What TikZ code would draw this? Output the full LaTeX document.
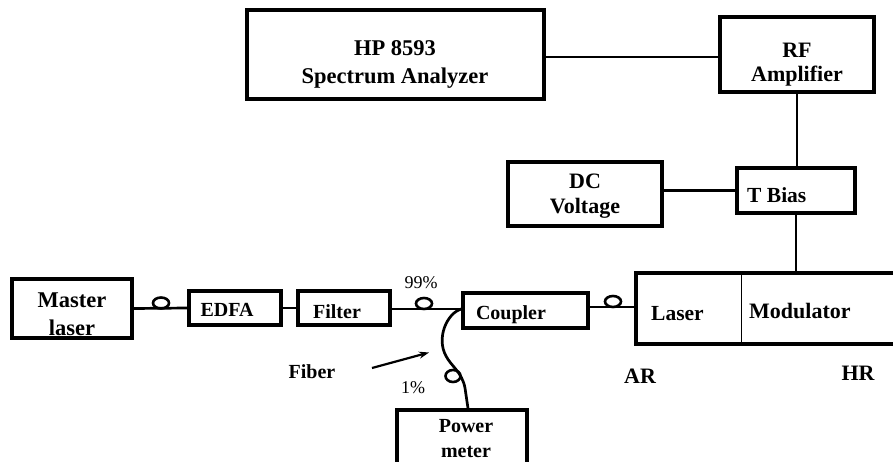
\documentclass[tikz,border=0pt]{standalone}
\usepackage{fontspec}
\setmainfont{Liberation Serif}
\usetikzlibrary{arrows.meta}
\begin{document}
\begin{tikzpicture}[x=1pt,y=-1pt,
  box/.style={draw,line width=3.2pt,inner sep=0pt},
  wire/.style={line width=2.7pt},
  loopy/.style={line width=2.6pt},
  treg/.style={inner sep=0pt,align=center,font=\fontsize{22}{25}\selectfont\bfseries},
  tbold/.style={inner sep=0pt,align=center,font=\fontsize{21.5}{28}\selectfont\bfseries},
  tmid/.style={inner sep=0pt,align=center,font=\fontsize{20}{24}\selectfont\bfseries},
  tsmall/.style={inner sep=0pt,font=\fontsize{18}{20}\selectfont},
]
\useasboundingbox (0,0) rectangle (893,462);
\clip (0,0) rectangle (893,462);

% boxes
\node[box,minimum width=297pt,minimum height=89pt] (sa) at (395.5,54.5) {};
\node[box,minimum width=154pt,minimum height=75pt] (rf) at (797,54.5) {};
\node[box,minimum width=154pt,minimum height=64pt] (dc) at (585,194) {};
\node[box,minimum width=118pt,minimum height=45pt] (tb) at (796,190.5) {};
\node[box,minimum width=120pt,minimum height=59pt] (ml) at (72,308.5) {};
\node[box,minimum width=92pt,minimum height=34pt] (edfa) at (235,308) {};
\node[box,minimum width=92pt,minimum height=34pt] (filt) at (344,308) {};
\node[box,minimum width=125pt,minimum height=35pt] (cp) at (525.5,310.5) {};
\node[box,minimum width=269pt,minimum height=71pt] (lm) at (770.5,308.5) {};
\node[box,minimum width=130pt,minimum height=65pt] (pm) at (462,442.5) {};
\draw[line width=1.4pt] ([xshift=107pt]lm.north west) -- ([xshift=107pt]lm.south west);

% texts
\node[treg,font=\fontsize{22.5}{28}\selectfont\bfseries] (sat) at (395,64) {HP 8593\\Spectrum Analyzer};
\node[treg,font=\fontsize{22}{24}\selectfont\bfseries] (rft) at (797,65) {RF\\Amplifier};
\node[treg] (dct) at (585,196.5) {DC\\Voltage};
\node[tbold,anchor=base west] (tbt) at (747,203) {T Bias};
\node[tbold,font=\fontsize{22.5}{28}\selectfont\bfseries] (mlt) at (72,314) {Master\\laser};
\node[tmid,anchor=base] (edfat) at (227,316) {EDFA};
\node[tmid,anchor=base] (filtt) at (337,318) {Filter};
\node[tmid,anchor=base] (cpt) at (511,319) {Coupler};
\node[tbold,anchor=base west] (lat) at (651,320) {Laser};
\node[tbold,font=\fontsize{22}{24}\selectfont\bfseries,anchor=base west] (mot) at (749,318) {Modulator};
\node[tmid,font=\fontsize{20}{25}\selectfont\bfseries] (pmt) at (466,439) {Power\\meter};
\node[tmid,anchor=base] (fibt) at (312,378) {Fiber};
\node[tsmall,anchor=base] (p99) at (421,288) {99\%};
\node[tsmall,anchor=base] (p1) at (413,393) {1\%};
\node[treg,anchor=base] (ar) at (640,383) {AR};
\node[treg,anchor=base] (hr) at (858,380) {HR};

% electrical connections
\draw[wire] ([yshift=-2.5pt]sa.east) -- ([yshift=-2.5pt]rf.west);
\draw[wire] (rf.south) -- (rf.south |- tb.north);
\draw[wire] (tb.west) -- (tb.west -| dc.east);
\draw[wire] (tb.south) -- (tb.south |- lm.north);

% optical path
\draw[wire] (ml.east) -- (edfa.west);
\draw[wire] (edfa.east) -- (filt.west);
\draw[wire] ([yshift=-1pt]filt.east) -- ([yshift=-1pt]filt.east -| cp.west);
\draw[wire] ([yshift=3.5pt]cp.east) -- ([yshift=3.5pt]cp.east -| lm.west);

% fiber loops
\draw[loopy] (161,303) ellipse (8pt and 5.5pt);
\draw[loopy] (424,303.5) ellipse (8pt and 5.5pt);
\draw[loopy] (613,301.5) ellipse (8pt and 5.5pt);
\draw[loopy] (453,376) ellipse (7.5pt and 6pt);

% 1% branch
\coordinate (br) at ([xshift=6pt]pm.north);
\draw[wire] ([yshift=1.5pt]cp.west) .. controls (447,313) and (436,338) .. (446,356)
  .. controls (451,366) and (462,372) .. (465,388) -- (br);

% fiber arrow
\coordinate (fa0) at (372,368);
\coordinate (fa1) at (429,352.5);
\draw[line width=2.2pt,-{Stealth[length=10pt,width=7pt]}] (fa0) -- (fa1);
\end{tikzpicture}
\end{document}
